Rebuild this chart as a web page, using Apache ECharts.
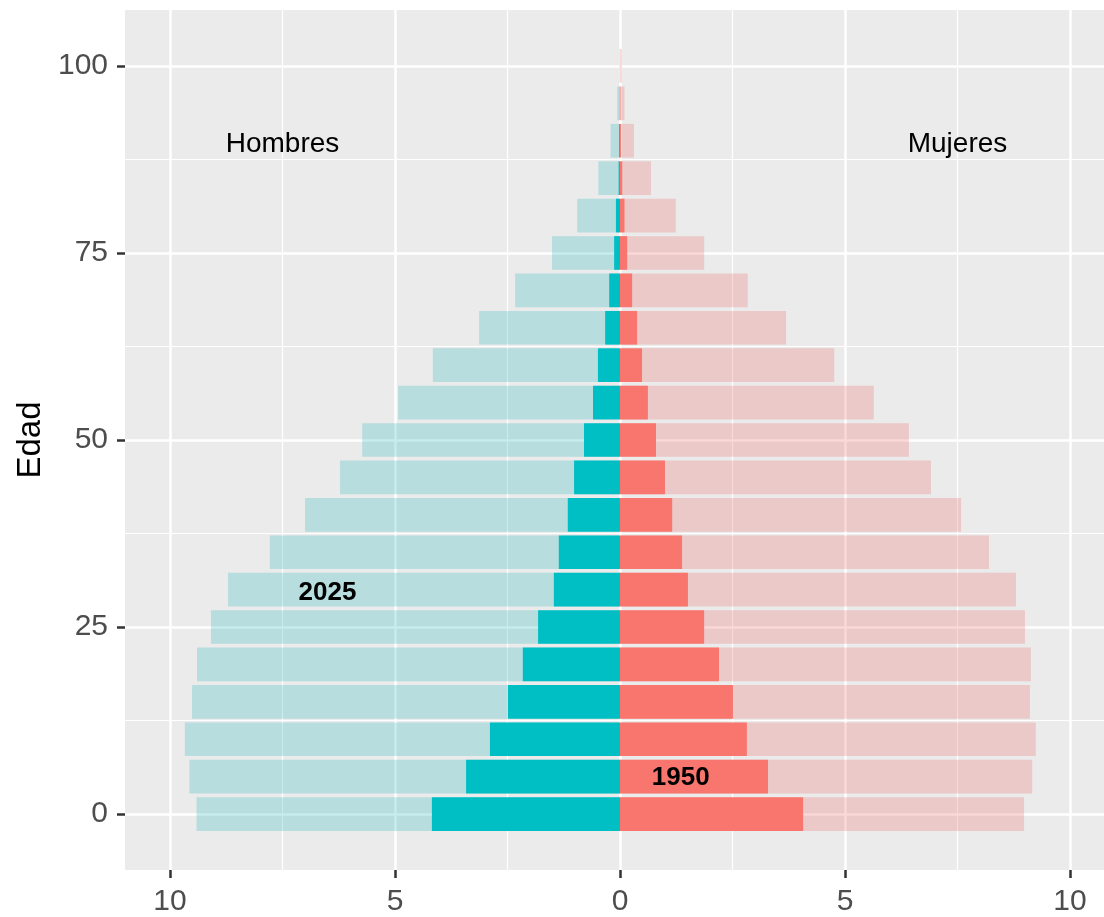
<!DOCTYPE html>
<html>
<head>
<meta charset="utf-8">
<script src="https://cdn.jsdelivr.net/npm/echarts@6/dist/echarts.min.js"></script>
<style>
    html, body { margin: 0; padding: 0; background: #ffffff; }
    #piramide { width: 1104px; height: 917px; }
</style>
</head>
<body>
<div id="piramide"></div>
<script>
// grupos de edad (centro de cada barra)
const edades = [0, 5, 10, 15, 20, 25, 30, 35, 40, 45, 50, 55, 60, 65, 70, 75, 80, 85, 90, 95, 100];
// porcentaje de poblacion
const hombres1950 = [4.18, 3.42, 2.89, 2.49, 2.16, 1.82, 1.47, 1.36, 1.16, 1.02, 0.8, 0.6, 0.49, 0.33, 0.24, 0.13, 0.09, 0.03, 0.02, 0.005, 0];
const hombres2025 = [9.41, 9.57, 9.67, 9.51, 9.4, 9.09, 8.71, 7.78, 7.0, 6.22, 5.73, 4.93, 4.16, 3.13, 2.33, 1.51, 0.95, 0.48, 0.21, 0.06, 0.01];
const mujeres1950 = [4.07, 3.29, 2.82, 2.51, 2.2, 1.87, 1.51, 1.38, 1.16, 1.0, 0.8, 0.62, 0.49, 0.38, 0.27, 0.16, 0.1, 0.05, 0.02, 0.01, 0];
const mujeres2025 = [8.98, 9.16, 9.24, 9.11, 9.13, 9.0, 8.8, 8.2, 7.58, 6.91, 6.42, 5.64, 4.76, 3.69, 2.84, 1.87, 1.24, 0.69, 0.31, 0.1, 0.04];
// ticks
const ticksX = [-10, -5, 0, 5, 10];
const ticksXmenor = [-7.5, -2.5, 2.5, 7.5];
const ticksY = [0, 25, 50, 75, 100];
const ticksYmenor = [12.5, 37.5, 62.5, 87.5];
// anotaciones [x, edad, texto]
const etiquetas = [[-7.5, 89.5, 'Hombres'], [7.5, 89.5, 'Mujeres']];
const etiquetasAnio = [[-6.5, 29.6, '2025'], [1.35, 4.9, '1950']];

const ANCHO = 4.5; // alto de cada barra en años

let chart = echarts.init(document.getElementById('piramide'));

function barras (valores, signo) {
    return valores.map((v, i) => [signo * v, edades[i]]);
}

function dibujarBarra (params, api) {
    let x = api.value(0);
    let y = api.value(1);
    let p0 = api.coord([0, y + ANCHO / 2]);
    let p1 = api.coord([x, y - ANCHO / 2]);
    return {
        type: 'rect',
        shape: {
            x: Math.min(p0[0], p1[0]),
            y: p0[1],
            width: Math.abs(p1[0] - p0[0]),
            height: p1[1] - p0[1]
        },
        style: api.style()
    };
}

function dibujarTexto (bold, size) {
    return function (params, api) {
        let p = api.coord([api.value(0), api.value(1)]);
        return {
            type: 'text',
            x: p[0],
            y: p[1],
            style: {
                text: api.value(2),
                fill: '#000000',
                font: (bold ? 'bold ' : '') + size + 'px "Liberation Sans", Arial, sans-serif',
                align: 'center',
                verticalAlign: 'middle'
            }
        };
    };
}

const fuente = '"Liberation Sans", Arial, sans-serif';
const ejeBase = {
    type: 'value',
    axisLine: { show: false, onZero: false }
};

const option = {
    animation: false,
    grid: {
        left: 125,
        right: 0,
        top: 10,
        bottom: 45,
        show: true,
        backgroundColor: '#EBEBEB',
        borderWidth: 0
    },
    xAxis: [
        Object.assign({}, ejeBase, {
            min: -11,
            max: 10.756,
            axisTick: { show: true, length: 8, lineStyle: { color: '#333333', width: 2.5 }, customValues: ticksX },
            axisLabel: {
                customValues: ticksX,
                fontSize: 30,
                fontFamily: fuente,
                color: '#4D4D4D',
                margin: 17,
                formatter: v => String(Math.abs(v))
            },
            splitLine: { show: true, lineStyle: { color: '#FFFFFF', width: 2.5 } }
        }),
        Object.assign({}, ejeBase, {
            min: -11,
            max: 10.756,
            position: 'bottom',
            axisTick: { show: false, customValues: ticksXmenor },
            axisLabel: { show: false, customValues: ticksXmenor },
            splitLine: { show: true, lineStyle: { color: '#FFFFFF', width: 1.2 } }
        })
    ],
    yAxis: [
        Object.assign({}, ejeBase, {
            min: -7.475,
            max: 107.475,
            name: 'Edad',
            nameLocation: 'middle',
            nameGap: 77,
            nameTextStyle: { fontSize: 33, fontFamily: fuente, color: '#000000' },
            axisTick: { show: true, length: 8, lineStyle: { color: '#333333', width: 2.5 }, customValues: ticksY },
            axisLabel: {
                customValues: ticksY,
                fontSize: 30,
                fontFamily: fuente,
                color: '#4D4D4D',
                margin: 17
            },
            splitLine: { show: true, lineStyle: { color: '#FFFFFF', width: 2.5 } }
        }),
        Object.assign({}, ejeBase, {
            min: -7.475,
            max: 107.475,
            position: 'left',
            axisTick: { show: false, customValues: ticksYmenor },
            axisLabel: { show: false, customValues: ticksYmenor },
            splitLine: { show: true, lineStyle: { color: '#FFFFFF', width: 1.2 } }
        })
    ],
    series: [
        {
            name: 'Hombres 2025',
            type: 'custom',
            renderItem: dibujarBarra,
            data: barras(hombres2025, -1),
            itemStyle: { color: 'rgba(31,179,183,0.25)' },
            z: 2
        },
        {
            name: 'Mujeres 2025',
            type: 'custom',
            renderItem: dibujarBarra,
            data: barras(mujeres2025, 1),
            itemStyle: { color: 'rgba(235,100,100,0.25)' },
            z: 2
        },
        {
            name: 'Hombres 1950',
            type: 'custom',
            renderItem: dibujarBarra,
            data: barras(hombres1950, -1),
            itemStyle: { color: '#00BFC4' },
            z: 3
        },
        {
            name: 'Mujeres 1950',
            type: 'custom',
            renderItem: dibujarBarra,
            data: barras(mujeres1950, 1),
            itemStyle: { color: '#F8766D' },
            z: 3
        },
        {
            name: 'sexo',
            type: 'custom',
            renderItem: dibujarTexto(false, 28),
            data: etiquetas,
            z: 4
        },
        {
            name: 'anio',
            type: 'custom',
            renderItem: dibujarTexto(true, 26),
            data: etiquetasAnio,
            z: 4
        }
    ]
};

chart.setOption(option);

window.addEventListener('resize', function () {
    chart.resize();
});
</script>
</body>
</html>
